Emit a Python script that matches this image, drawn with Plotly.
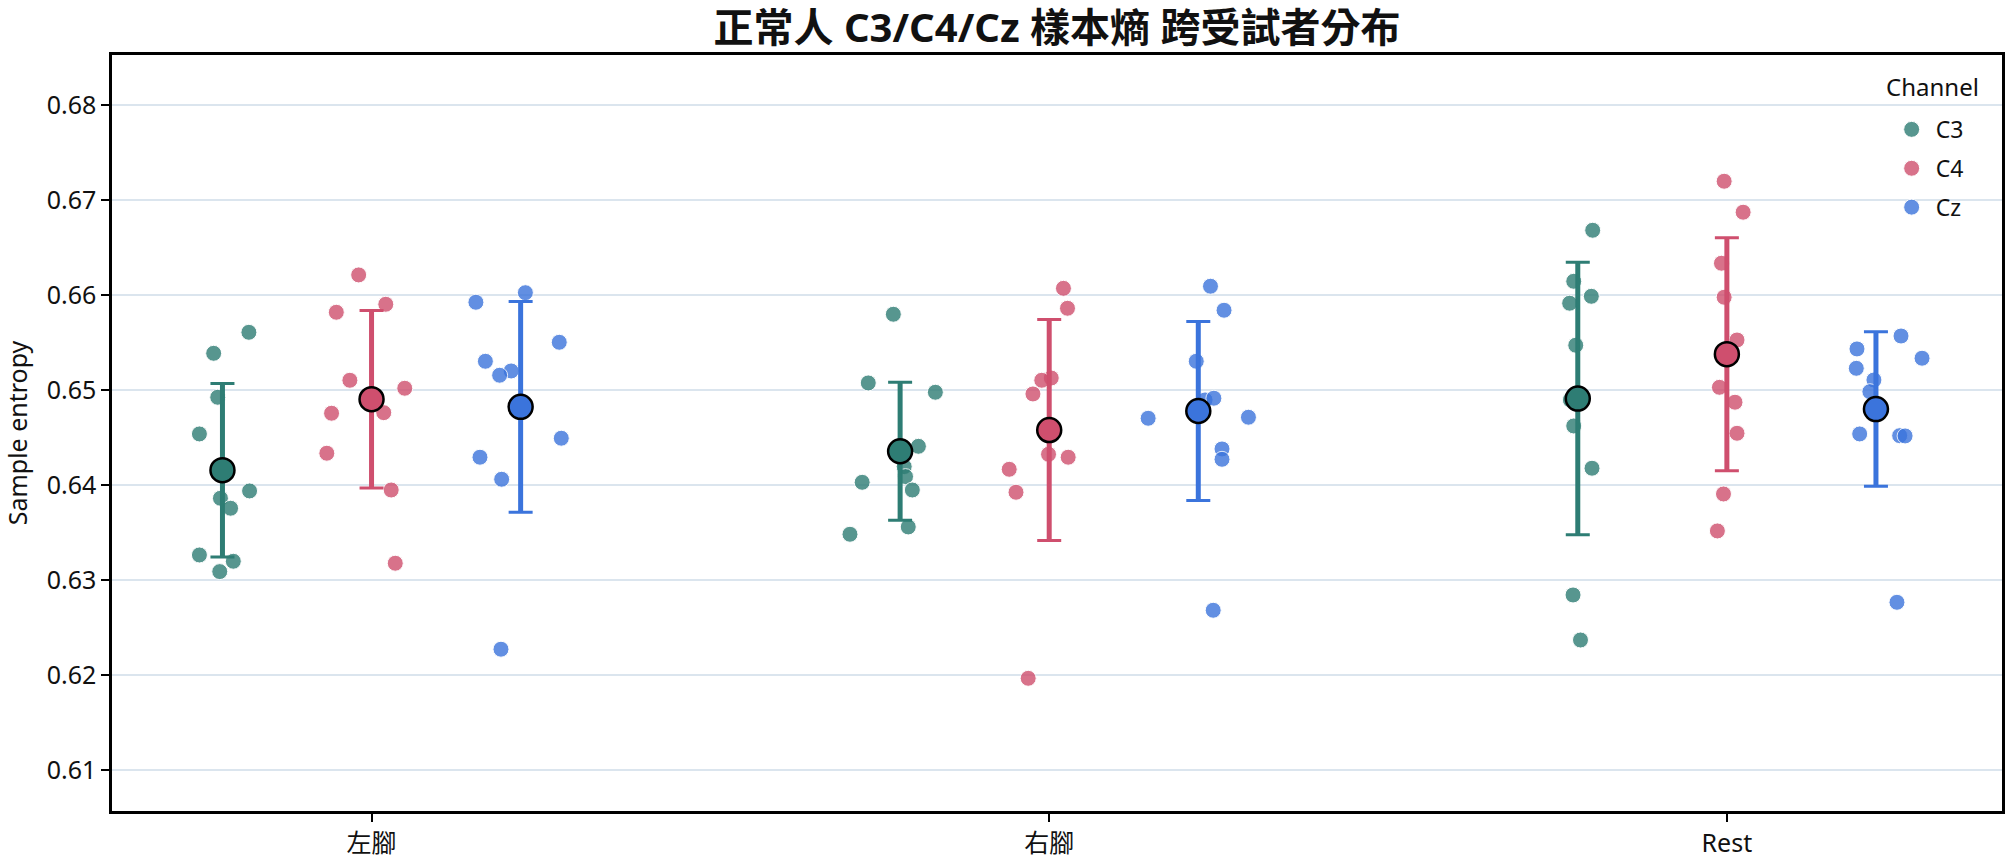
import numpy as np
import plotly.graph_objects as go

# ---------------- data ----------------
conditions = ["左腳", "右腳", "Rest"]
channels = ["C3", "C4", "Cz"]

# sample entropy per subject, per condition
c3_left = [0.65607, 0.65386, 0.64923, 0.64537, 0.63860, 0.63937, 0.63755, 0.63263, 0.63197, 0.63088]
c4_left = [0.66211, 0.65902, 0.65818, 0.65102, 0.65018, 0.64761, 0.64755, 0.64334, 0.63947, 0.63176]
cz_left = [0.66024, 0.65923, 0.65502, 0.65302, 0.65200, 0.65155, 0.64492, 0.64292, 0.64060, 0.62271]

c3_right = [0.65797, 0.65074, 0.64976, 0.64407, 0.64193, 0.64088, 0.64028, 0.63947, 0.63558, 0.63481]
c4_right = [0.66070, 0.65860, 0.65126, 0.65102, 0.64958, 0.64323, 0.64292, 0.64165, 0.63923, 0.61965]
cz_right = [0.66092, 0.65839, 0.65302, 0.64895, 0.64913, 0.64702, 0.64713, 0.64379, 0.64270, 0.62681]

c3_rest = [0.66681, 0.66144, 0.65986, 0.65913, 0.65471, 0.64895, 0.64621, 0.64176, 0.62842, 0.62368]
c4_rest = [0.67197, 0.66871, 0.66334, 0.65976, 0.65526, 0.65028, 0.64871, 0.64544, 0.63905, 0.63516]
cz_rest = [0.65568, 0.65432, 0.65334, 0.65228, 0.65105, 0.64982, 0.64537, 0.64519, 0.64516, 0.62765]

# horizontal jitter of each subject point (category units)
c3_left_jit = [0.039, -0.013, -0.007, -0.034, -0.003, 0.040, 0.012, -0.034, 0.016, -0.004]
c4_left_jit = [-0.019, 0.021, -0.052, -0.032, 0.049, 0.018, -0.059, -0.066, 0.029, 0.035]
cz_left_jit = [0.007, -0.066, 0.057, -0.052, -0.014, -0.031, 0.060, -0.060, -0.028, -0.029]

c3_right_jit = [-0.010, -0.047, 0.052, 0.027, 0.006, 0.008, -0.056, 0.018, 0.012, -0.074]
c4_right_jit = [0.021, 0.027, 0.003, -0.011, -0.024, -0.001, 0.028, -0.059, -0.049, -0.031]
cz_right_jit = [0.018, 0.038, -0.003, 0.010, 0.023, -0.074, 0.074, 0.035, 0.035, 0.022]

c3_rest_jit = [0.022, -0.006, 0.020, -0.012, -0.003, -0.011, -0.006, 0.021, -0.007, 0.004]
c4_rest_jit = [-0.004, 0.024, -0.008, -0.004, 0.015, -0.011, 0.012, 0.015, -0.005, -0.014]
cz_rest_jit = [0.037, -0.028, 0.068, -0.029, -0.003, -0.009, -0.024, 0.035, 0.043, 0.031]

y_tickvals = [0.61, 0.62, 0.63, 0.64, 0.65, 0.66, 0.67, 0.68]

values = {
    "C3": [c3_left, c3_right, c3_rest],
    "C4": [c4_left, c4_right, c4_rest],
    "Cz": [cz_left, cz_right, cz_rest],
}
jitters = {
    "C3": [c3_left_jit, c3_right_jit, c3_rest_jit],
    "C4": [c4_left_jit, c4_right_jit, c4_rest_jit],
    "Cz": [cz_left_jit, cz_right_jit, cz_rest_jit],
}

# ---------------- styling ----------------
colors = {"C3": "#2e7d74", "C4": "#cf4f6e", "Cz": "#3b74dc"}
offsets = {"C3": -0.22, "C4": 0.0, "Cz": 0.22}
FONT = "Noto Sans, Noto Sans CJK TC, sans-serif"

fig = go.Figure()

# individual subject points
for ch in channels:
    xs, ys = [], []
    for gi, cond in enumerate(conditions):
        v = np.array(values[ch][gi])
        j = np.array(jitters[ch][gi])
        xs.extend(gi + offsets[ch] + j)
        ys.extend(v)
    fig.add_trace(go.Scatter(
        x=xs, y=ys, mode="markers", name=ch, legendgroup=ch,
        marker=dict(size=16, color=colors[ch], opacity=0.8,
                    line=dict(color="white", width=1)),
        showlegend=True,
    ))

# mean +/- SD
for ch in channels:
    mx, my, sd = [], [], []
    for gi, cond in enumerate(conditions):
        v = np.array(values[ch][gi])
        mx.append(gi + offsets[ch])
        my.append(v.mean())
        sd.append(v.std(ddof=1))
    # thick vertical bar
    fig.add_trace(go.Scatter(
        x=mx, y=my, mode="markers", showlegend=False, hoverinfo="skip",
        marker=dict(size=1, color="rgba(0,0,0,0)"),
        error_y=dict(type="data", array=sd, visible=True, color=colors[ch],
                     thickness=5, width=0),
    ))
    # thin caps
    fig.add_trace(go.Scatter(
        x=mx, y=my, mode="markers", showlegend=False, hoverinfo="skip",
        marker=dict(size=1, color="rgba(0,0,0,0)"),
        error_y=dict(type="data", array=sd, visible=True, color=colors[ch],
                     thickness=3, width=12),
    ))
    fig.add_trace(go.Scatter(
        x=mx, y=my, mode="markers", showlegend=False, legendgroup=ch,
        marker=dict(size=24, color=colors[ch], line=dict(color="black", width=2.5)),
    ))

fig.update_layout(
    width=2015, height=864,
    margin=dict(l=112, r=13, t=55, b=53, autoexpand=False),
    paper_bgcolor="white", plot_bgcolor="white",
    font=dict(family=FONT, size=22, color="#111111"),
    title=dict(text="<b>正常人 C3/C4/Cz 樣本熵 跨受試者分布</b>",
               x=0.5, xref="paper", xanchor="center", y=0.968, yref="container",
               yanchor="middle", font=dict(size=40, family=FONT, color="#111111")),
    legend=dict(x=0.9395, xanchor="left", y=0.930, yanchor="top",
                itemwidth=38, tracegroupgap=6,
                bgcolor="rgba(0,0,0,0)", font=dict(size=23)),
    showlegend=True,
    annotations=[dict(text="Channel", xref="paper", yref="paper",
                      x=0.989, xanchor="right", y=0.9577, yanchor="middle",
                      showarrow=False, font=dict(size=24, family=FONT, color="#111111"))],
)
fig.update_xaxes(
    tickmode="array", tickvals=list(range(len(conditions))), ticktext=conditions,
    range=[-0.383, 2.406], showgrid=False, zeroline=False, automargin=False,
    showline=True, linecolor="black", linewidth=2.5, mirror=True,
    ticks="outside", ticklen=8, tickwidth=2, tickcolor="black",
    tickfont=dict(size=25),
)
fig.update_yaxes(
    tickmode="array", tickvals=y_tickvals, ticktext=[f"{v:.2f}" for v in y_tickvals],
    range=[0.60568, 0.68526], showgrid=True, gridcolor="#dbe5ee", gridwidth=1.5,
    zeroline=False, showline=True, linecolor="black", linewidth=2.5, mirror=True,
    ticks="outside", ticklen=8, tickwidth=2, tickcolor="black", automargin=False,
    tickfont=dict(size=25),
    title=dict(text="Sample entropy", font=dict(size=25), standoff=12),
)

fig.write_html("out.html")
